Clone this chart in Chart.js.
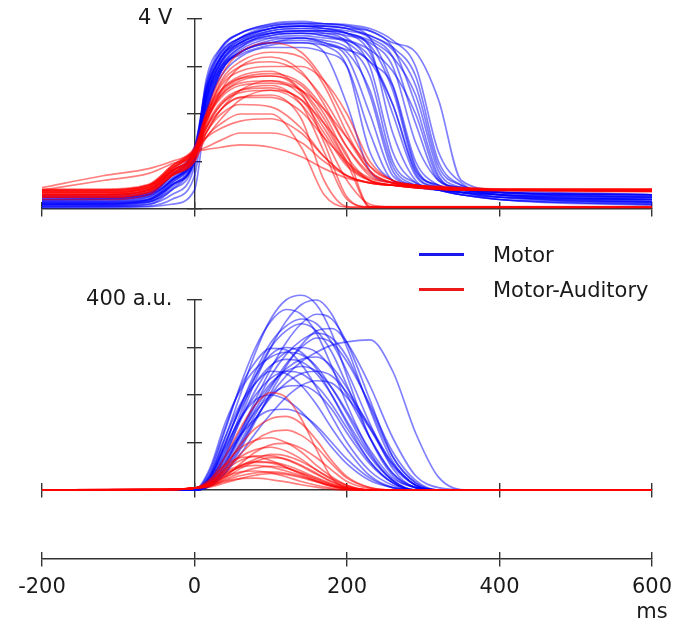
<!DOCTYPE html>
<html>
<head>
<meta charset="utf-8">
<script src="https://cdn.jsdelivr.net/npm/chart.js@4.4.0/dist/chart.umd.min.js"></script>
<style>
  body { margin: 0; background: #fff; }
  #wrap { position: relative; width: 675px; height: 626px; font-family: 'DejaVu Sans', sans-serif; }
  #wrap canvas { position: absolute; left: 0; }
  #topChart { top: 0; }
  #bottomChart { top: 230px; }
  #axisChart { top: 530px; }
  #legend { position: absolute; left: 419px; top: 237px; }
  .item { display: flex; align-items: center; height: 35px; font-size: 21px; color: #1a1a1a; }
  .swatch { width: 45px; height: 3px; margin-right: 29px; }
</style>
</head>
<body>
<div id="wrap">
  <canvas id="topChart" width="675" height="230"></canvas>
  <canvas id="bottomChart" width="675" height="280"></canvas>
  <canvas id="axisChart" width="675" height="96"></canvas>
  <div id="legend"></div>
</div>
<script>
// time bases (ms) for the sampled traces
const TIME_TOP = [-200, -120, -60, -30, 0, 15, 35, 60, 100, 140, 170, 200, 230, 260, 290, 320, 350, 400, 600];
const TIME_BOTTOM = [-200, -40, 0, 20, 40, 60, 80, 100, 120, 140, 160, 180, 200, 230, 260, 290, 320, 360, 600];

const SERIES_NAMES = ['Motor', 'Motor-Auditory'];

const X_TICKS = [-200, 0, 200, 400, 600];
const X_TICK_LABELS = ['-200', '0', '200', '400', '600'];
const X_UNIT = 'ms';
const TOP_Y_TICKS = [0, 1, 2, 3, 4];
const TOP_Y_LABELS = ['', '', '', '', '4 V'];
const BOTTOM_Y_TICKS = [0, 100, 200, 300, 400];
const BOTTOM_Y_LABELS = ['', '', '', '', '400 a.u.'];

// upper panel, volts
const MOTOR_VOLTAGE = [
  [0.10, 0.12, 0.15, 0.50, 1.10, 2.40, 3.20, 3.60, 3.85, 3.90, 3.90, 3.85, 3.60, 2.60, 0.90, 0.45, 0.35, 0.25, 0.15],
  [0.20, 0.22, 0.30, 0.70, 1.20, 2.20, 3.00, 3.40, 3.70, 3.75, 3.70, 3.50, 2.40, 0.80, 0.50, 0.40, 0.35, 0.30, 0.25],
  [0.05, 0.06, 0.10, 0.40, 1.00, 2.60, 3.30, 3.60, 3.80, 3.85, 3.80, 3.70, 3.40, 1.60, 0.60, 0.40, 0.30, 0.20, 0.10],
  [0.15, 0.16, 0.25, 0.60, 1.10, 2.00, 2.90, 3.30, 3.50, 3.50, 3.30, 2.20, 0.80, 0.55, 0.45, 0.40, 0.35, 0.30, 0.20],
  [0.25, 0.25, 0.35, 0.80, 1.30, 2.50, 3.20, 3.50, 3.70, 3.75, 3.75, 3.70, 3.50, 3.00, 1.40, 0.60, 0.45, 0.35, 0.30],
  [0.10, 0.10, 0.20, 0.50, 1.00, 2.30, 3.10, 3.50, 3.75, 3.80, 3.75, 3.60, 3.00, 1.20, 0.55, 0.40, 0.30, 0.25, 0.20],
  [0.30, 0.30, 0.40, 0.80, 1.20, 2.10, 2.80, 3.20, 3.40, 3.40, 3.30, 3.00, 1.60, 0.60, 0.50, 0.45, 0.40, 0.35, 0.30],
  [0.05, 0.05, 0.10, 0.30, 0.90, 2.70, 3.40, 3.70, 3.90, 3.95, 3.90, 3.85, 3.75, 3.40, 2.20, 0.70, 0.40, 0.25, 0.15],
  [0.18, 0.20, 0.28, 0.60, 1.10, 2.20, 3.00, 3.40, 3.60, 3.60, 3.50, 3.20, 2.00, 0.70, 0.50, 0.40, 0.35, 0.30, 0.25],
  [0.12, 0.12, 0.20, 0.60, 1.20, 2.40, 3.20, 3.55, 3.80, 3.85, 3.80, 3.70, 3.30, 2.00, 0.70, 0.45, 0.35, 0.25, 0.20],
  [0.22, 0.22, 0.30, 0.70, 1.10, 2.30, 3.10, 3.50, 3.70, 3.70, 3.65, 3.50, 3.10, 2.60, 1.00, 0.50, 0.40, 0.35, 0.30],
  [0.08, 0.08, 0.15, 0.40, 1.00, 2.00, 2.90, 3.30, 3.50, 3.55, 3.45, 3.00, 1.20, 0.60, 0.50, 0.40, 0.30, 0.20, 0.15],
  [0.15, 0.15, 0.20, 0.50, 1.10, 2.50, 3.30, 3.60, 3.80, 3.85, 3.85, 3.80, 3.75, 3.50, 3.30, 2.30, 0.60, 0.40, 0.30],
  [0.20, 0.20, 0.30, 0.60, 1.20, 2.60, 3.40, 3.70, 3.85, 3.90, 3.85, 3.80, 3.60, 3.20, 1.80, 0.60, 0.45, 0.35, 0.25],
  [0.05, 0.05, 0.05, 0.10, 0.40, 2.00, 2.90, 3.30, 3.50, 3.60, 3.50, 3.30, 2.50, 0.90, 0.50, 0.40, 0.30, 0.20, 0.10],
  [0.28, 0.28, 0.35, 0.70, 1.30, 2.30, 3.00, 3.30, 3.55, 3.60, 3.55, 3.40, 2.80, 1.00, 0.55, 0.45, 0.40, 0.35, 0.30],
  [0.12, 0.12, 0.18, 0.55, 1.15, 2.45, 3.25, 3.60, 3.80, 3.85, 3.85, 3.80, 3.65, 3.40, 2.80, 1.00, 0.50, 0.30, 0.20],
  [0.25, 0.25, 0.32, 0.65, 1.15, 2.10, 2.95, 3.35, 3.60, 3.65, 3.60, 3.55, 3.35, 2.90, 2.00, 0.65, 0.45, 0.35, 0.25],
  [0.08, 0.08, 0.14, 0.45, 1.05, 2.30, 3.15, 3.50, 3.70, 3.75, 3.75, 3.70, 3.55, 3.20, 2.40, 0.80, 0.45, 0.30, 0.15],
  [0.18, 0.18, 0.26, 0.62, 1.15, 2.35, 3.10, 3.45, 3.65, 3.70, 3.70, 3.65, 3.45, 2.50, 0.85, 0.50, 0.40, 0.30, 0.22],
  [0.03, 0.03, 0.06, 0.20, 0.70, 2.20, 3.05, 3.45, 3.65, 3.70, 3.65, 3.55, 3.20, 2.20, 0.75, 0.45, 0.35, 0.20, 0.08],
  [0.24, 0.24, 0.32, 0.72, 1.25, 2.45, 3.20, 3.55, 3.75, 3.80, 3.80, 3.75, 3.65, 3.35, 2.60, 0.90, 0.50, 0.35, 0.28],
  [0.14, 0.14, 0.22, 0.55, 1.10, 2.15, 2.95, 3.25, 3.45, 3.50, 3.45, 3.35, 3.10, 2.20, 0.80, 0.50, 0.40, 0.30, 0.18],
  [0.10, 0.10, 0.18, 0.50, 1.05, 2.50, 3.35, 3.70, 3.88, 3.92, 3.90, 3.88, 3.80, 3.55, 3.00, 1.20, 0.55, 0.30, 0.12]
];

const MOTOR_AUDITORY_VOLTAGE = [
  [0.35, 0.35, 0.45, 0.80, 1.20, 2.00, 2.80, 3.30, 3.50, 3.30, 2.70, 1.80, 0.90, 0.60, 0.50, 0.45, 0.42, 0.40, 0.38],
  [0.30, 0.30, 0.40, 0.70, 1.10, 1.80, 2.50, 3.00, 3.20, 2.90, 2.20, 1.30, 0.70, 0.55, 0.50, 0.45, 0.42, 0.40, 0.38],
  [0.40, 0.40, 0.50, 0.80, 1.20, 1.90, 2.50, 2.80, 2.90, 2.50, 1.80, 1.00, 0.65, 0.55, 0.50, 0.48, 0.45, 0.42, 0.40],
  [0.25, 0.25, 0.35, 0.70, 1.10, 1.70, 2.20, 2.50, 2.60, 2.20, 1.20, 0.20, 0.05, 0.05, 0.05, 0.05, 0.05, 0.05, 0.05],
  [0.20, 0.20, 0.30, 0.70, 1.00, 1.60, 2.10, 2.35, 2.40, 1.90, 0.60, 0.05, 0.03, 0.03, 0.03, 0.03, 0.03, 0.03, 0.03],
  [0.35, 0.35, 0.45, 0.90, 1.30, 2.00, 2.50, 2.75, 2.80, 2.60, 2.00, 1.10, 0.60, 0.50, 0.45, 0.42, 0.40, 0.38, 0.36],
  [0.30, 0.30, 0.40, 0.80, 1.10, 1.60, 2.00, 2.20, 2.15, 1.70, 1.10, 0.70, 0.55, 0.50, 0.45, 0.42, 0.40, 0.40, 0.38],
  [0.35, 0.35, 0.45, 0.80, 1.20, 1.30, 1.45, 1.60, 1.60, 1.40, 1.00, 0.70, 0.55, 0.50, 0.45, 0.42, 0.40, 0.40, 0.40],
  [0.45, 0.70, 0.85, 1.00, 1.20, 1.50, 1.90, 2.30, 2.50, 2.30, 1.60, 0.90, 0.60, 0.50, 0.48, 0.46, 0.44, 0.42, 0.42],
  [0.30, 0.30, 0.40, 0.75, 1.15, 1.90, 2.60, 2.90, 3.00, 3.00, 2.70, 2.00, 1.00, 0.60, 0.50, 0.45, 0.42, 0.40, 0.38],
  [0.25, 0.25, 0.35, 0.70, 1.00, 1.50, 1.80, 2.00, 2.00, 1.30, 0.30, 0.04, 0.04, 0.04, 0.04, 0.04, 0.04, 0.04, 0.04],
  [0.40, 0.40, 0.50, 0.85, 1.25, 1.90, 2.40, 2.65, 2.70, 2.40, 1.70, 0.95, 0.60, 0.50, 0.45, 0.42, 0.40, 0.40, 0.40],
  [0.30, 0.30, 0.40, 0.75, 1.10, 1.90, 2.70, 3.10, 3.30, 3.20, 2.60, 1.60, 0.80, 0.55, 0.50, 0.45, 0.42, 0.40, 0.38],
  [0.38, 0.38, 0.50, 0.90, 1.25, 1.50, 1.70, 1.85, 1.90, 1.60, 1.10, 0.70, 0.55, 0.50, 0.45, 0.42, 0.40, 0.40, 0.40],
  [0.28, 0.28, 0.38, 0.75, 1.10, 1.70, 2.20, 2.45, 2.50, 2.20, 1.50, 0.60, 0.10, 0.04, 0.04, 0.04, 0.04, 0.04, 0.04],
  [0.40, 0.60, 0.75, 0.95, 1.15, 1.60, 2.10, 2.50, 2.70, 2.50, 1.90, 1.00, 0.60, 0.50, 0.48, 0.46, 0.44, 0.42, 0.42],
  [0.32, 0.32, 0.42, 0.80, 1.15, 1.85, 2.45, 2.75, 2.85, 2.65, 2.10, 1.30, 0.75, 0.55, 0.48, 0.44, 0.42, 0.40, 0.38],
  [0.36, 0.36, 0.46, 0.85, 1.20, 1.75, 2.25, 2.50, 2.55, 2.30, 1.80, 1.15, 0.04, 0.04, 0.04, 0.04, 0.04, 0.04, 0.04],
  [0.26, 0.26, 0.36, 0.72, 1.05, 1.80, 2.40, 2.70, 2.80, 2.45, 1.40, 0.25, 0.04, 0.04, 0.04, 0.04, 0.04, 0.04, 0.04],
  [0.42, 0.42, 0.52, 0.90, 1.25, 1.85, 2.35, 2.60, 2.65, 2.50, 2.10, 1.50, 0.90, 0.60, 0.50, 0.46, 0.44, 0.42, 0.42],
  [0.33, 0.33, 0.43, 0.78, 1.15, 1.95, 2.65, 3.00, 3.10, 2.85, 2.30, 1.50, 0.80, 0.55, 0.48, 0.44, 0.42, 0.40, 0.38],
  [0.38, 0.38, 0.48, 0.85, 1.20, 1.70, 2.10, 2.35, 2.35, 2.05, 1.50, 0.95, 0.05, 0.04, 0.04, 0.04, 0.04, 0.04, 0.04],
  [0.40, 0.40, 0.50, 0.85, 1.20, 1.25, 1.30, 1.35, 1.30, 1.10, 0.85, 0.65, 0.55, 0.50, 0.46, 0.44, 0.42, 0.40, 0.40]
];

// lower panel, a.u.
const MOTOR_FORCE = [
  [0, 0, 0, 30, 110, 200, 290, 360, 400, 410, 390, 330, 240, 110, 30, 5, 0, 0, 0],
  [0, 0, 0, 15, 70, 150, 230, 300, 355, 390, 400, 370, 300, 170, 60, 10, 0, 0, 0],
  [0, 0, 0, 20, 80, 160, 240, 300, 335, 350, 335, 290, 220, 110, 35, 5, 0, 0, 0],
  [0, 0, 0, 25, 95, 175, 240, 285, 300, 290, 255, 200, 140, 60, 15, 0, 0, 0, 0],
  [0, 0, 0, 10, 50, 110, 170, 220, 255, 275, 280, 260, 215, 130, 50, 10, 0, 0, 0],
  [0, 0, 0, 30, 110, 180, 225, 250, 245, 220, 180, 130, 85, 30, 5, 0, 0, 0, 0],
  [0, 0, 0, 10, 45, 100, 160, 215, 265, 300, 320, 310, 270, 180, 80, 20, 0, 0, 0],
  [0, 0, 0, 15, 60, 115, 165, 200, 218, 220, 205, 170, 120, 55, 15, 0, 0, 0, 0],
  [0, 0, 0, 10, 40, 90, 150, 200, 240, 270, 290, 305, 312, 316, 250, 120, 27, 0, 0],
  [0, 0, 0, 35, 125, 220, 300, 355, 380, 370, 330, 260, 180, 80, 20, 0, 0, 0, 0],
  [0, 0, 0, 25, 90, 150, 190, 200, 190, 165, 130, 90, 55, 20, 5, 0, 0, 0, 0],
  [0, 0, 0, 8, 35, 85, 145, 205, 260, 305, 335, 340, 310, 220, 110, 30, 5, 0, 0],
  [0, 0, 0, 15, 65, 125, 180, 225, 250, 260, 250, 215, 165, 85, 25, 5, 0, 0, 0],
  [0, 0, 0, 20, 70, 115, 150, 168, 170, 160, 135, 100, 65, 25, 5, 0, 0, 0, 0],
  [0, 0, 0, 40, 130, 215, 270, 298, 295, 265, 215, 155, 100, 40, 10, 0, 0, 0, 0],
  [0, 0, 0, 12, 55, 120, 190, 255, 310, 350, 370, 360, 310, 190, 70, 15, 0, 0, 0],
  [0, 0, 0, 8, 35, 75, 120, 160, 195, 220, 230, 225, 195, 130, 55, 10, 0, 0, 0],
  [0, 0, 0, 45, 140, 210, 255, 280, 290, 285, 260, 215, 160, 75, 20, 0, 0, 0, 0],
  [0, 0, 0, 18, 75, 145, 210, 260, 290, 300, 290, 255, 200, 110, 35, 5, 0, 0, 0],
  [0, 0, 0, 22, 85, 150, 200, 235, 250, 245, 220, 180, 130, 60, 15, 0, 0, 0, 0],
  [0, 0, 0, 12, 55, 115, 180, 240, 285, 315, 330, 320, 280, 175, 70, 15, 0, 0, 0],
  [0, 0, 0, 28, 100, 170, 225, 262, 275, 270, 245, 200, 145, 70, 20, 0, 0, 0, 0],
  [0, 0, 0, 10, 45, 95, 150, 195, 225, 245, 250, 240, 205, 135, 55, 10, 0, 0, 0],
  [0, 0, 0, 25, 95, 175, 250, 310, 345, 360, 350, 310, 250, 140, 45, 5, 0, 0, 0]
];

const MOTOR_AUDITORY_FORCE = [
  [0, 1, 4, 20, 70, 130, 180, 205, 195, 150, 85, 25, 4, 0, 0, 0, 0, 0, 0],
  [0, 1, 4, 12, 40, 75, 105, 122, 126, 115, 90, 55, 25, 5, 0, 0, 0, 0, 0],
  [0, 1, 4, 15, 45, 70, 85, 90, 82, 65, 42, 22, 8, 0, 0, 0, 0, 0, 0],
  [0, 1, 4, 15, 38, 52, 60, 57, 48, 35, 22, 10, 3, 0, 0, 0, 0, 0, 0],
  [0, 1, 4, 12, 28, 38, 40, 36, 28, 18, 10, 4, 0, 0, 0, 0, 0, 0, 0],
  [0, 1, 4, 10, 30, 50, 65, 75, 72, 60, 42, 24, 10, 0, 0, 0, 0, 0, 0],
  [0, 1, 4, 8, 18, 24, 25, 22, 17, 11, 6, 2, 0, 0, 0, 0, 0, 0, 0],
  [0, 1, 4, 18, 55, 88, 105, 110, 100, 80, 52, 28, 10, 0, 0, 0, 0, 0, 0],
  [0, 1, 4, 8, 22, 36, 46, 50, 46, 36, 24, 12, 4, 0, 0, 0, 0, 0, 0],
  [0, 1, 4, 15, 50, 95, 130, 150, 155, 140, 105, 62, 28, 5, 0, 0, 0, 0, 0],
  [0, 1, 4, 6, 15, 24, 31, 35, 33, 26, 17, 8, 2, 0, 0, 0, 0, 0, 0],
  [0, 1, 4, 22, 52, 68, 70, 62, 48, 33, 19, 8, 2, 0, 0, 0, 0, 0, 0],
  [0, 1, 4, 10, 25, 45, 60, 68, 65, 52, 35, 18, 6, 0, 0, 0, 0, 0, 0],
  [0, 1, 4, 14, 35, 48, 52, 48, 40, 30, 18, 8, 2, 0, 0, 0, 0, 0, 0],
  [0, 1, 4, 16, 42, 62, 72, 72, 64, 50, 33, 17, 6, 0, 0, 0, 0, 0, 0],
  [0, 1, 4, 12, 32, 50, 58, 58, 52, 40, 26, 13, 4, 0, 0, 0, 0, 0, 0],
  [0, 1, 4, 10, 28, 55, 80, 95, 98, 88, 68, 42, 18, 3, 0, 0, 0, 0, 0],
  [0, 1, 4, 9, 20, 30, 36, 38, 35, 28, 19, 10, 3, 0, 0, 0, 0, 0, 0]
];

const BLUE = 'rgba(0, 0, 255, 0.5)';
const RED = 'rgba(255, 0, 0, 0.5)';
const LEGEND_COLORS = ['rgb(25, 25, 235)', 'rgb(235, 25, 25)'];
const AXIS_COLOR = '#333';
const TEXT_COLOR = '#1a1a1a';
const LABEL_SHIFT = -29;   // y labels sit this many ms left of the y axis

Chart.defaults.font.family = "'DejaVu Sans', sans-serif";
Chart.defaults.font.size = 21;
Chart.defaults.color = TEXT_COLOR;

// one dataset per trace, red drawn on top of blue
function traceSets(times, traces, color, order) {
  return traces.map(vals => ({
    data: vals.map((v, i) => ({ x: times[i], y: v })),
    borderColor: color,
    borderWidth: 1.7,
    pointRadius: 0,
    cubicInterpolationMode: 'monotone',
    clip: 12,
    order: order
  }));
}

function noPadding(s) {
  s.paddingLeft = s.paddingRight = s.paddingTop = s.paddingBottom = 0;
}

// axis line plus tick marks on one side; inner = the other half of the cross ticks
function axisScale(axis, at, min, max, tickValues, inner) {
  return {
    type: 'linear',
    axis: axis,
    position: at,
    min: min,
    max: max,
    afterBuildTicks: s => { s.ticks = tickValues.map(v => ({ value: v })); },
    afterFit: noPadding,
    grid: { drawOnChartArea: false, tickLength: inner ? -7 : 7, color: AXIS_COLOR, lineWidth: 1.4 },
    border: { display: !inner, color: AXIS_COLOR, width: 1.4 },
    ticks: { display: false }
  };
}

// tick labels only
function labelScale(axis, at, min, max, tickValues, tickLabels, pad) {
  return {
    type: 'linear',
    axis: axis,
    position: at,
    min: min,
    max: max,
    afterBuildTicks: s => { s.ticks = tickValues.map(v => ({ value: v })); },
    afterFit: noPadding,
    grid: { display: false, drawTicks: false },
    border: { display: false },
    ticks: { padding: pad, autoSkip: false, maxRotation: 0, callback: (v, i) => tickLabels[i] }
  };
}

function baseOptions(padding, scales) {
  return {
    responsive: false,
    animation: false,
    events: [],
    layout: { padding: padding, autoPadding: false },
    plugins: { legend: { display: false }, tooltip: { enabled: false } },
    scales: scales
  };
}

function panelScales(yMax, yTicks, yLabels) {
  return {
    x: axisScale('x', { y: 0 }, -200, 600, X_TICKS, false),
    xIn: axisScale('x', { y: 0 }, -200, 600, X_TICKS, true),
    y: axisScale('y', { x: 0 }, 0, yMax, yTicks, false),
    yIn: axisScale('y', { x: 0 }, 0, yMax, yTicks, true),
    yLabel: labelScale('y', { x: LABEL_SHIFT }, 0, yMax, yTicks, yLabels, 0)
  };
}

new Chart(document.getElementById('topChart'), {
  type: 'line',
  data: {
    datasets: traceSets(TIME_TOP, MOTOR_VOLTAGE, BLUE, 2)
      .concat(traceSets(TIME_TOP, MOTOR_AUDITORY_VOLTAGE, RED, 1))
  },
  options: baseOptions({ left: 42, right: 23, top: 19, bottom: 21 }, panelScales(4, TOP_Y_TICKS, TOP_Y_LABELS))
});

new Chart(document.getElementById('bottomChart'), {
  type: 'line',
  data: {
    datasets: traceSets(TIME_BOTTOM, MOTOR_FORCE, BLUE, 2)
      .concat(traceSets(TIME_BOTTOM, MOTOR_AUDITORY_FORCE, RED, 1))
  },
  options: baseOptions({ left: 42, right: 23, top: 70, bottom: 20 }, panelScales(400, BOTTOM_Y_TICKS, BOTTOM_Y_LABELS))
});

// shared time axis, unit under the last label
const axisLabels = X_TICK_LABELS.map((l, i) => i === X_TICK_LABELS.length - 1 ? [l, X_UNIT] : l);
new Chart(document.getElementById('axisChart'), {
  type: 'line',
  data: { datasets: [] },
  options: baseOptions({ left: 42, right: 23, top: 10, bottom: 48 }, {
    x: axisScale('x', { y: 0 }, -200, 600, X_TICKS, false),
    xIn: axisScale('x', { y: 0 }, -200, 600, X_TICKS, true),
    xLabel: labelScale('x', { y: 0 }, -200, 600, X_TICKS, axisLabels, 16),
    y: { type: 'linear', display: false, min: -1, max: 1 }
  })
});

// legend
const legend = document.getElementById('legend');
SERIES_NAMES.forEach((name, i) => {
  const item = document.createElement('div');
  item.className = 'item';
  const sw = document.createElement('span');
  sw.className = 'swatch';
  sw.style.background = LEGEND_COLORS[i];
  item.appendChild(sw);
  item.appendChild(document.createTextNode(name));
  legend.appendChild(item);
});
</script>
</body>
</html>
